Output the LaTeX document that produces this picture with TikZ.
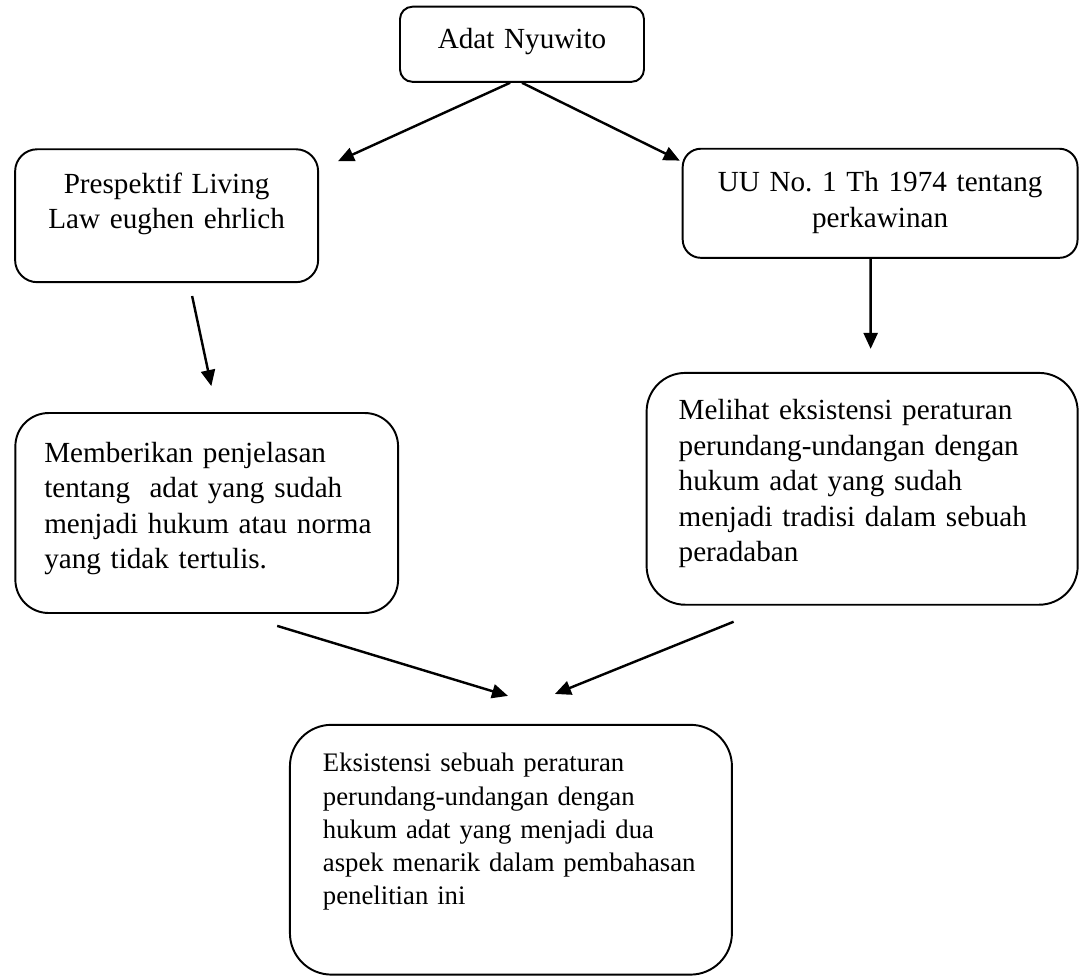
\documentclass[tikz,border=0pt]{standalone}
\usepackage{fontspec}
\setmainfont{Liberation Serif}
\usepackage{tikz}
\usetikzlibrary{arrows.meta,positioning}
\tikzset{
  card/.style={draw,line width=0.8pt,inner ysep=0pt,font=\fontsize{12}{14.6}\selectfont},
  cardsmall/.style={card,font=\fontsize{11}{13.7}\selectfont},
  line/.style={-{Triangle[length=6.6pt,width=5.8pt]},line width=1pt}
}

\begin{document}
\begin{tikzpicture}
  \useasboundingbox (0,0) rectangle (15.65,-14.13);
  \node[card,rounded corners=5.1pt,inner xsep=0pt,text width=100.4pt,align=center,text height=17.3pt,text depth=13.6pt] (adat) at (7.55,-0.64) {Adat Nyuwito};
  \node[card,rounded corners=9.1pt,inner xsep=0pt,text width=124.7pt,align=center,text height=18.1pt,text depth=36.6pt] (living) at (2.41,-3.12) {Prespektif Living\\Law eughen ehrlich};
  \node[card,rounded corners=7.5pt,inner xsep=0pt,text width=162.5pt,align=center,text height=17.7pt,text depth=27.2pt] (uu) at (12.73,-2.94) {UU No.\ 1 Th 1974 tentang\\perkawinan};
  \node[card,rounded corners=13.7pt,inner xsep=11.9pt,text width=133.7pt,align=left,text height=20.2pt,text depth=62.1pt] (jelas) at (2.99,-7.42) {Memberikan penjelasan\\tentang\ \ adat yang sudah\\\mbox{menjadi hukum atau norma}\\yang tidak tertulis.};
  \node[card,rounded corners=15.9pt,inner xsep=13.2pt,text width=151pt,align=left,text height=19.3pt,text depth=76.1pt] (tradisi) at (12.47,-7.07) {Melihat eksistensi peraturan\\perundang-undangan dengan\\hukum adat yang sudah\\menjadi tradisi dalam sebuah\\peradaban};
  \node[cardsmall,rounded corners=17.1pt,inner xsep=13.6pt,text width=154.7pt,align=left,text height=19.3pt,text depth=83.5pt] (hasil) at (7.39,-12.29) {Eksistensi sebuah peraturan\\perundang-undangan dengan\\hukum adat yang menjadi dua\\aspek menarik dalam pembahasan\\penelitian ini};
  \draw[line] ([xshift=-4.9pt]adat.south) -- ([xshift=7.8pt,yshift=-5.3pt]living.north east);
  \draw[line] (adat.south) -- ([xshift=-0.8pt,yshift=-5.3pt]uu.north west);
  \draw[line] ([xshift=10.5pt,yshift=-5.3pt]living.south) -- ([xshift=1.9pt,yshift=10.7pt]jelas.north);
  \draw[line] ([xshift=-3.9pt]uu.south) -- ([xshift=3.5pt,yshift=9.5pt]tradisi.north);
  \draw[line] ([xshift=29pt,yshift=-4.9pt]jelas.south) -- ([xshift=-1.2pt,yshift=11.5pt]hasil.north);
  \draw[line] ([xshift=-52.9pt,yshift=-6.6pt]tradisi.south) -- ([xshift=18.1pt,yshift=12.3pt]hasil.north);
\end{tikzpicture}
\end{document}
